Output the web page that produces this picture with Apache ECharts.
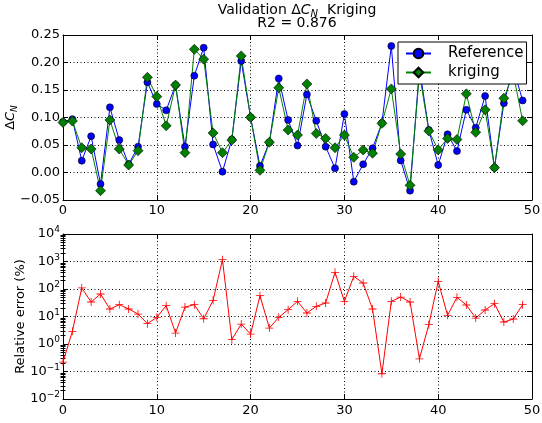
<!DOCTYPE html>
<html>
<head>
<meta charset="utf-8">
<script src="https://cdn.jsdelivr.net/npm/echarts@6/dist/echarts.min.js"></script>
<style>html,body{margin:0;padding:0;background:#fff}#c{width:542px;height:423px}</style>
</head>
<body>
<div id="c"></div>
<script>
const sampleIndex = [0,1,2,3,4,5,6,7,8,9,10,11,12,13,14,15,16,17,18,19,20,21,22,23,24,25,26,27,28,29,30,31,32,33,34,35,36,37,38,39,40,41,42,43,44,45,46,47,48,49];
const reference = [0.092,0.097,0.0215,0.066,-0.021,0.1185,0.059,0.015,0.047,0.164,0.1245,0.113,0.159,0.047,0.176,0.227,0.051,0.0015,0.060,0.2027,0.1003,0.012,0.055,0.171,0.0955,0.049,0.142,0.094,0.047,0.0076,0.1064,-0.0167,0.015,0.044,0.090,0.230,0.022,-0.033,0.190,0.0773,0.0136,0.0694,0.039,0.114,0.0815,0.139,0.0088,0.126,0.190,0.131];
const kriging = [0.091,0.0936,0.045,0.0427,-0.033,0.0955,0.0427,0.0136,0.0397,0.173,0.138,0.085,0.159,0.036,0.224,0.206,0.072,0.036,0.059,0.212,0.1003,0.004,0.055,0.154,0.0773,0.068,0.161,0.071,0.062,0.045,0.068,0.0276,0.041,0.035,0.0894,0.152,0.0336,-0.0233,0.180,0.0755,0.041,0.062,0.060,0.143,0.073,0.114,0.0088,0.135,0.180,0.094];
const relativeError = [0.22,2.9,109,33.7,65.8,18.7,26.9,18.7,12.3,5.5,9.3,24.8,2.5,22,26.9,8.3,38.7,1166,1.44,5.3,2.3,57,3.8,9.3,17.7,35.6,13.4,23.4,31,404,35.6,289,165,18.7,0.083,35.6,51,33.7,0.29,5.05,190,11,49.8,26.2,8.8,17.2,29.3,6.3,8.1,26.9];

const FONT = 'DejaVu Sans';
const pairs = arr => sampleIndex.map((x, i) => [x, arr[i]]);
const grid = { type: [1, 2.5], color: '#000', width: 1 };
const tickIn = { show: true, inside: true, length: 5, lineStyle: { color: '#000' } };
const axLine = { show: true, onZero: false, lineStyle: { color: '#000', width: 1 } };
const lbl = { color: '#000', fontFamily: FONT, fontSize: 13 };

// minor tick positions of the log axis, expressed as exponents (log10 of 2..9 x 10^e)
const minorLogExp = [];
for (let e = -2; e < 4; e++) for (let k = 2; k <= 9; k++) minorLogExp.push(e + Math.log10(k));

function xAx(gi, pos, show) {
  return {
    type: 'value', gridIndex: gi, position: pos, min: 0, max: 50, interval: 10,
    axisLine: axLine, axisTick: tickIn,
    axisLabel: Object.assign({ show: show, margin: pos === 'bottom' ? (gi === 0 ? 4 : 5) : 0 }, lbl),
    splitLine: { show: show, lineStyle: grid }
  };
}
function minorAx(pos) {
  return {
    type: 'value', gridIndex: 1, position: pos, min: -2, max: 4,
    axisLine: { show: false },
    axisTick: { show: true, inside: true, length: 2.5, customValues: minorLogExp, lineStyle: { color: '#000' } },
    axisLabel: { show: false }, splitLine: { show: false }
  };
}

const richName = (sz, sub, pad) => ({
  t: { fontFamily: FONT, fontSize: sz, fontWeight: 'normal', color: '#000' },
  c: { fontFamily: FONT, fontSize: sz, fontStyle: 'italic', fontWeight: 'normal', color: '#000' },
  n: { fontFamily: FONT, fontSize: sub, fontStyle: 'italic', fontWeight: 'normal', color: '#000', padding: [pad, 0, 0, 0] }
});

const chart = echarts.init(document.getElementById('c'), null, { renderer: 'canvas' });
chart.setOption({
  animation: false,
  backgroundColor: '#fff',
  title: [
    {
      text: '{t|Validation Δ}{c|C}{n|N}{t|  Kriging}', left: 297, top: 1, padding: 0, textAlign: 'center',
      textStyle: { fontWeight: 'normal', rich: richName(14, 10, 8) }
    },
    { text: 'R2 = 0.876', left: 297, top: 16, padding: 0, textAlign: 'center',
      textStyle: { fontFamily: FONT, fontSize: 14, fontWeight: 'normal', color: '#000' } }
  ],
  grid: [
    { left: 63, right: 10, top: 35, height: 165, outerBoundsMode: 'none' },
    { left: 63, right: 10, top: 234, height: 165, outerBoundsMode: 'none' }
  ],
  legend: {
    show: true, data: ['Reference', 'kriging'], orient: 'vertical',
    left: 398, top: 42, backgroundColor: '#fff', borderColor: '#000', borderWidth: 1,
    padding: [4, 3, 4, 7], itemGap: 4, itemWidth: 25, itemHeight: 12,
    textStyle: { fontFamily: FONT, fontSize: 15, color: '#000', padding: [0, 0, 0, 12] }
  },
  xAxis: [ xAx(0, 'bottom', true), xAx(0, 'top', false), xAx(1, 'bottom', true), xAx(1, 'top', false) ],
  yAxis: [
    {
      type: 'value', gridIndex: 0, position: 'left', min: -0.05, max: 0.25, interval: 0.05,
      axisLine: axLine, axisTick: tickIn,
      axisLabel: Object.assign({ margin: 3, formatter: v => (v < -1e-9 ? '\u2212' : '') + Math.abs(v).toFixed(2) }, lbl),
      splitLine: { show: true, lineStyle: grid },
      name: '{t|Δ}{c|C}{n|N}', nameLocation: 'middle', nameGap: 44, nameRotate: 90, nameMoveOverlap: false,
      nameTextStyle: { rich: richName(13, 9, 7) }
    },
    {
      type: 'value', gridIndex: 0, position: 'right', min: -0.05, max: 0.25, interval: 0.05,
      axisLine: axLine, axisTick: tickIn, axisLabel: { show: false }, splitLine: { show: false }
    },
    {
      type: 'log', logBase: 10, gridIndex: 1, position: 'left', min: 0.01, max: 10000, interval: 1,
      axisLine: axLine, axisTick: tickIn,
      axisLabel: Object.assign({ margin: 3, formatter: v => '{b|10}{s|' + String(Math.round(Math.log10(v))).replace('-', '\u2212') + '}',
        rich: { b: { fontFamily: FONT, fontSize: 13, color: '#000' }, s: { fontFamily: FONT, fontSize: 9, color: '#000', padding: [0, 0, 8, 0] } } }, lbl),
      splitLine: { show: true, lineStyle: grid },
      name: 'Relative error (%)', nameLocation: 'middle', nameGap: 36, nameMoveOverlap: false,
      nameTextStyle: { fontFamily: FONT, fontSize: 13, color: '#000' }
    },
    {
      type: 'log', logBase: 10, gridIndex: 1, position: 'right', min: 0.01, max: 10000, interval: 1,
      axisLine: axLine, axisTick: tickIn,
      axisLabel: { show: false }, splitLine: { show: false }
    },
    minorAx('left'),
    minorAx('right')
  ],
  series: [
    {
      name: 'Reference', type: 'line', xAxisIndex: 0, yAxisIndex: 0, data: pairs(reference),
      symbol: 'circle', symbolSize: 7,
      lineStyle: { color: '#0000ff', width: 1 },
      itemStyle: { color: '#0000ff', borderColor: '#000', borderWidth: 0.6 }
    },
    {
      name: 'kriging', type: 'line', xAxisIndex: 0, yAxisIndex: 0, data: pairs(kriging),
      symbol: 'diamond', symbolSize: 10,
      lineStyle: { color: '#008000', width: 1 },
      itemStyle: { color: '#008000', borderColor: '#000', borderWidth: 0.6 }
    },
    {
      name: 'error', type: 'line', xAxisIndex: 2, yAxisIndex: 2, data: pairs(relativeError),
      symbol: 'path://M4.5,0h1v10h-1z M0,4.5h10v1h-10z', symbolSize: 8,
      lineStyle: { color: '#ff0000', width: 1 },
      itemStyle: { color: '#ff0000' }
    }
  ]
});
</script>
</body>
</html>
